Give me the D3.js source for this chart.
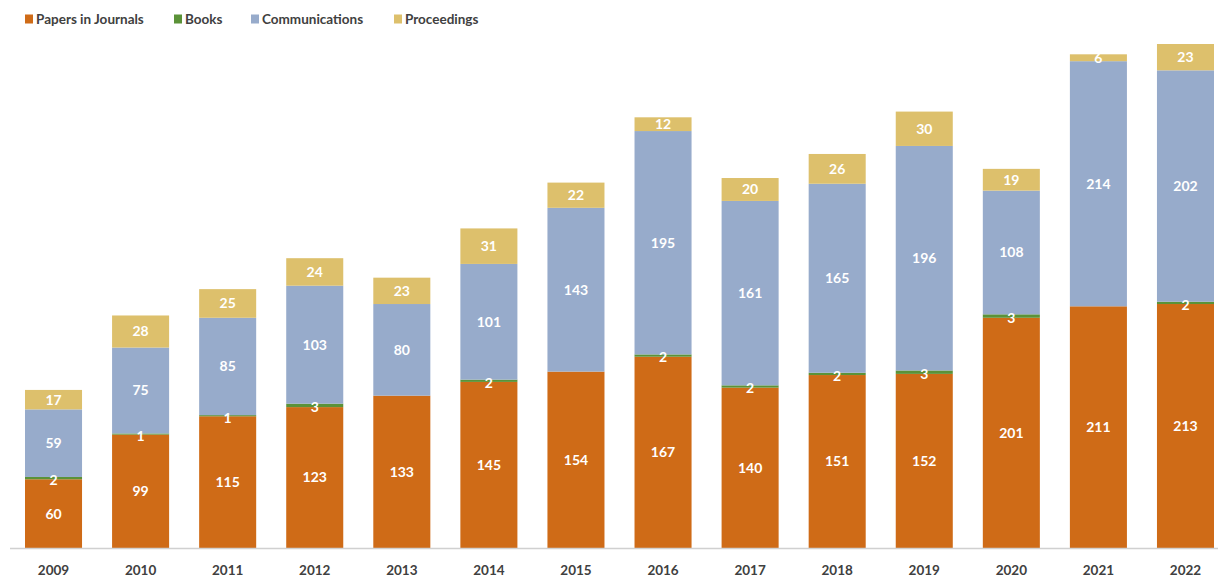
<!DOCTYPE html>
<html>
<head>
<meta charset="utf-8">
<script src="https://cdn.jsdelivr.net/npm/d3@7"></script>
<style>
  html, body { margin: 0; padding: 0; background: #ffffff; }
  svg { display: block; font-family: Lato, "Open Sans", sans-serif; }
</style>
</head>
<body>
<svg id="chart" width="1218" height="577"></svg>
<script>
const years = ["2009","2010","2011","2012","2013","2014","2015","2016","2017","2018","2019","2020","2021","2022"];
const seriesNames = ["Papers in Journals", "Books", "Communications", "Proceedings"];
const papers = [60, 99, 115, 123, 133, 145, 154, 167, 140, 151, 152, 201, 211, 213];
const books = [2, 1, 1, 3, 0, 2, 0, 2, 2, 2, 3, 3, 0, 2];
const communications = [59, 75, 85, 103, 80, 101, 143, 195, 161, 165, 196, 108, 214, 202];
const proceedings = [17, 28, 25, 24, 23, 31, 22, 12, 20, 26, 30, 19, 6, 23];
const colors = ["#CF6B17", "#5B9238", "#97ABCB", "#DDC06C"];

const rows = years.map((y, i) => ({
  year: y,
  "Papers in Journals": papers[i],
  "Books": books[i],
  "Communications": communications[i],
  "Proceedings": proceedings[i]
}));

const svg = d3.select("#chart");
const baseline = 548;

const x = d3.scaleBand().domain(years).range([25, 1214]).paddingInner(0.345).paddingOuter(0);
const y = d3.scaleLinear().domain([0, 440]).range([baseline, 44]);
const color = d3.scaleOrdinal().domain(seriesNames).range(colors);

const stacked = d3.stack().keys(seriesNames)(rows);

const groups = svg.append("g").selectAll("g").data(stacked).join("g")
  .attr("fill", d => color(d.key));

groups.selectAll("rect").data(d => d).join("rect")
  .attr("x", d => x(d.data.year))
  .attr("width", x.bandwidth())
  .attr("y", d => y(d[1]))
  .attr("height", d => y(d[0]) - y(d[1]));

// labels
const labelG = svg.append("g");
stacked.forEach(layer => {
  layer.forEach(d => {
    const v = d[1] - d[0];
    if (v <= 0) return;
    let cy = (y(d[0]) + y(d[1])) / 2;
    if (layer.key === "Books") cy += 2;
    labelG.append("text")
      .attr("x", x(d.data.year) + x.bandwidth() / 2)
      .attr("y", cy)
      .attr("dy", "0.35em")
      .attr("text-anchor", "middle")
      .attr("fill", "#ffffff")
      .attr("font-size", 14)
      .attr("font-weight", "bold")
      .text(v);
  });
});

// axis
const axis = svg.append("g").attr("transform", `translate(0,${baseline})`)
  .call(d3.axisBottom(x).tickSize(0).tickPadding(17));
axis.select(".domain").attr("d", `M10,0.5H1218`).attr("stroke", "#d0d0d0").attr("stroke-width", 1.5);
axis.selectAll("text")
  .attr("font-size", 13.5)
  .attr("font-weight", "bold")
  .attr("fill", "#404040")
  .attr("font-family", "Lato, 'Open Sans', sans-serif");

// legend
const legendX = [25, 174, 251, 394];
const legend = svg.append("g").selectAll("g").data(seriesNames).join("g")
  .attr("transform", (d, i) => `translate(${legendX[i]},19)`);
legend.append("rect")
  .attr("x", 0).attr("y", -4.5).attr("width", 8).attr("height", 9)
  .attr("fill", d => color(d));
legend.append("text")
  .attr("x", 11).attr("y", 0).attr("dy", "0.35em")
  .attr("font-size", 13.5).attr("font-weight", "bold").attr("fill", "#404040")
  .text(d => d);
</script>
</body>
</html>
